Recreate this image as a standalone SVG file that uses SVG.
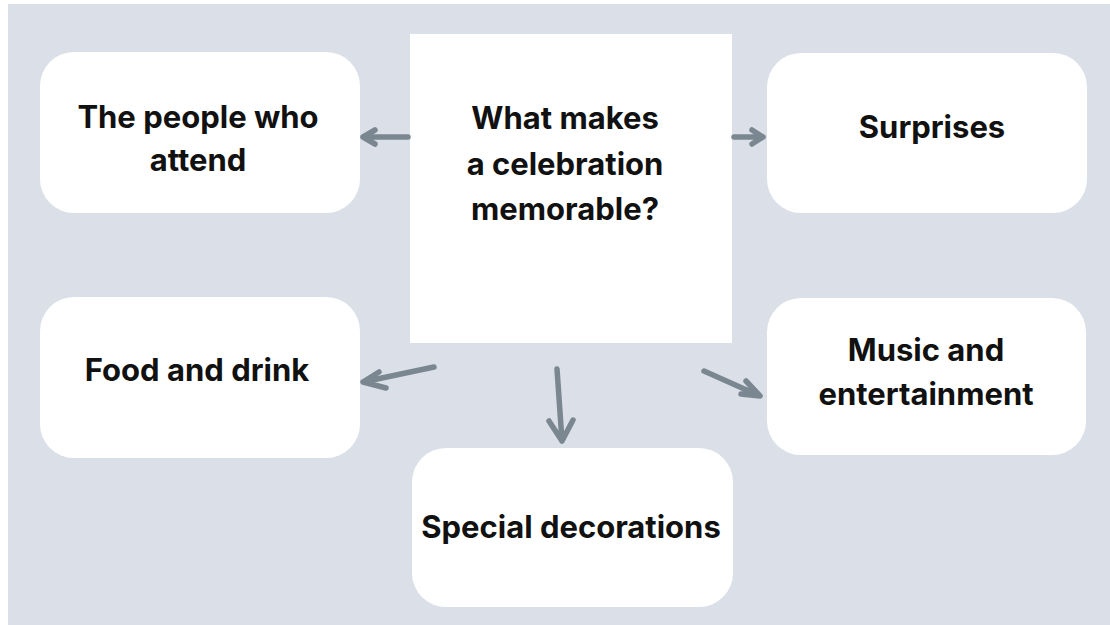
<svg xmlns="http://www.w3.org/2000/svg" width="1110" height="625" viewBox="0 0 1110 625">
  <style>
    .card { fill: #ffffff; }
    .label { font-family: Inter, "Liberation Sans", sans-serif; font-weight: 700; font-size: 31px; fill: #111111; text-anchor: middle; }
    .link { fill: none; stroke: #7b8790; stroke-width: 5.5; stroke-linecap: round; stroke-linejoin: round; }
  </style>

  <!-- page and backdrop -->
  <rect x="0" y="0" width="1110" height="625" fill="#ffffff"/>
  <rect x="8" y="4" width="1102" height="621" fill="#dbe0e8"/>

  <!-- central question -->
  <g id="node-center">
    <rect class="card" x="410" y="34" width="322" height="309"/>
    <text class="label" x="565" y="129">What makes</text>
    <text class="label" x="565" y="175">a celebration</text>
    <text class="label" x="565" y="220">memorable?</text>
  </g>

  <g id="node-people">
    <rect class="card" x="40" y="52" width="320" height="161" rx="34" ry="34"/>
    <text class="label" x="198" y="128">The people who</text>
    <text class="label" x="198" y="171">attend</text>
  </g>

  <g id="node-surprises">
    <rect class="card" x="767" y="53" width="320" height="160" rx="34" ry="34"/>
    <text class="label" x="932" y="138">Surprises</text>
  </g>

  <g id="node-food">
    <rect class="card" x="40" y="297" width="320" height="161" rx="34" ry="34"/>
    <text class="label" x="197" y="381">Food and drink</text>
  </g>

  <g id="node-music">
    <rect class="card" x="767" y="298" width="319" height="157" rx="34" ry="34"/>
    <text class="label" x="926" y="361">Music and</text>
    <text class="label" x="926" y="405">entertainment</text>
  </g>

  <g id="node-decorations">
    <rect class="card" x="412" y="448" width="321" height="159" rx="34" ry="34"/>
    <text class="label" x="571" y="538">Special decorations</text>
  </g>

  <!-- connectors from the central question -->
  <g id="connectors">
    <path class="link" d="M408 137 L363 137 M375 130 L363 137 L375 144"/>
    <path class="link" d="M734 137 L763 137 M752 130 L763 137 L752 144"/>
    <path class="link" d="M434 367 L363 382 M379 372 L363 382 L386 388"/>
    <path class="link" d="M557 369 L562 441 M549 421 L562 441 L573 420"/>
    <path class="link" d="M704 371 L760 396 M746 381 L760 396 L741 394"/>
  </g>
</svg>
